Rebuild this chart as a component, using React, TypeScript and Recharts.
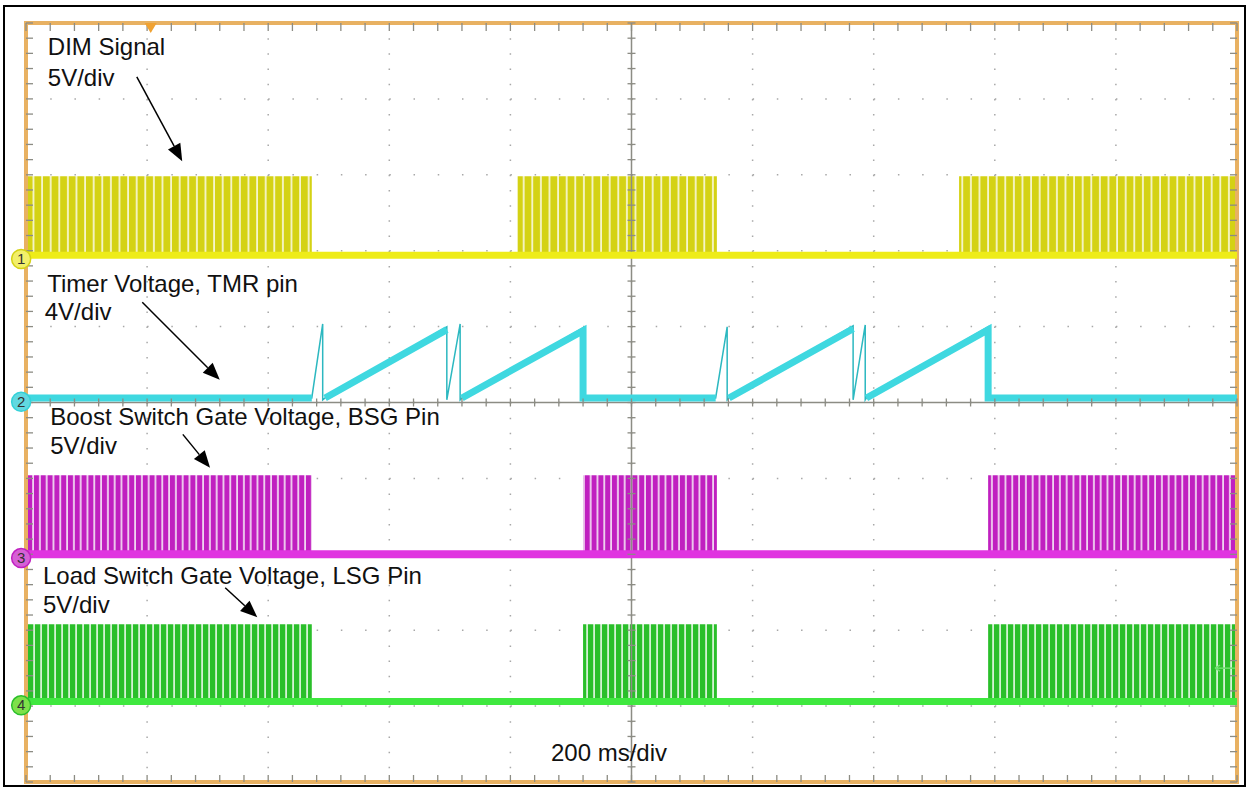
import {
  ComposedChart,
  Line,
  Area,
  Scatter,
  XAxis,
  YAxis,
  CartesianGrid,
  ReferenceLine,
  ReferenceDot,
  ReferenceArea,
} from "recharts";

// time: 0..2000 ms (200 ms/div), screen: 0..10 divisions
const timeTicks = [0, 200, 400, 600, 800, 1000, 1200, 1400, 1600, 1800, 2000];
const divTicks = [0, 1, 2, 3, 4, 5, 6, 7, 8, 9, 10];

// channel settings
const channelNames = ["1", "2", "3", "4"];
const channelOffsets = [6.94, 5.06, 3.0, 1.06]; // ground position, div
const voltsPerDiv = [5, 4, 5, 5];
const channelColors = ["#d4d214", "#34d2d8", "#c020c0", "#2abf2a"];
const baselineColors = ["#eeec18", "#3fd8e0", "#e034e0", "#3fe83f"];
const markerFills = ["#f2ef6a", "#62d8e0", "#d660d6", "#7ee04a"];

// PWM burst windows, ms
const dimBursts = [[0, 472], [812, 1141], [1541, 2000]];
const bsgBursts = [[0, 472], [920, 1141], [1589, 2000]];
const lsgBursts = [[0, 472], [920, 1141], [1589, 2000]];
const dimHighV = 5.2;
const bsgHighV = 5.2;
const lsgHighV = 5.1;

// timer voltage, full trace (ms, V)
const tmrTime = [0, 472, 490, 490, 494, 695, 695, 717, 717, 720, 920, 920, 1139, 1158, 1158, 1161, 1366, 1366, 1386, 1386, 1388, 1589, 1589, 2000];
const tmrVolts = [0, 0, 3.9, -0.1, 0, 3.75, -0.1, 3.9, -0.1, 0, 3.7, 0, 0, 3.75, -0.1, 0, 3.8, -0.1, 3.85, -0.1, 0, 3.75, 0, 0];

// timer voltage, noisy thick parts (ramps and flat parts), null = break
const tmrBandTime = [0, 472, 480, 494, 695, 700, 720, 920, 920, 1139, 1145, 1161, 1366, 1370, 1388, 1589, 1589, 2000];
const tmrBandVolts = [0, 0, null, 0, 3.6, null, 0, 3.55, 0, 0, null, 0, 3.65, null, 0, 3.6, 0, 0];

// annotation texts (ms, div at baseline)
const noteTexts = [
  "DIM Signal",
  "5V/div",
  "Timer Voltage, TMR pin",
  "4V/div",
  "Boost Switch Gate Voltage, BSG Pin",
  "5V/div",
  "Load Switch Gate Voltage, LSG Pin",
  "5V/div",
  "200 ms/div",
];
const noteT = [36, 36, 35, 31, 40, 40, 28, 28, 867];
const noteD = [9.58, 9.17, 6.46, 6.09, 4.7, 4.32, 2.61, 2.23, 0.28];

// arrows: tail -> tip (ms, div)
const arrowFrom = [[183, 9.29], [192, 6.32], [259, 4.58], [329, 2.56]];
const arrowTo = [[258, 8.18], [320, 5.3], [304, 4.14], [382, 2.17]];

const minorT = Array.from({ length: 51 }, (_, i) => i * 40);
const minorD = Array.from({ length: 51 }, (_, i) => Math.round(i * 2) / 10);

const toDiv = (v: number, ch: number) => channelOffsets[ch] + v / voltsPerDiv[ch];

const envelope = (bursts: number[][], high: number, ch: number) =>
  bursts.flatMap(([a, b]) => [
    { t: a, d: toDiv(0, ch) },
    { t: a, d: toDiv(high, ch) },
    { t: b, d: toDiv(high, ch) },
    { t: b, d: toDiv(0, ch) },
  ]);

const flat = (ch: number) => [
  { t: 0, d: channelOffsets[ch] },
  { t: 2000, d: channelOffsets[ch] },
];

const dimData = envelope(dimBursts, dimHighV, 0);
const bsgData = envelope(bsgBursts, bsgHighV, 2);
const lsgData = envelope(lsgBursts, lsgHighV, 3);
const tmrData = tmrTime.map((t, i) => ({ t, d: toDiv(tmrVolts[i], 1) }));
const tmrBand = tmrBandTime.map((t, i) => ({
  t,
  d: tmrBandVolts[i] === null ? null : toDiv(tmrBandVolts[i] as number, 1),
}));

const tickColor = "#8c8c84";
const font = "'Liberation Sans', Arial, sans-serif";

const tickShape = (dx1: number, dy1: number, dx2: number, dy2: number) => (p: any) =>
  (
    <line
      x1={p.cx + dx1}
      y1={p.cy + dy1}
      x2={p.cx + dx2}
      y2={p.cy + dy2}
      stroke={tickColor}
      strokeWidth={1.3}
    />
  );

const arrowShape = (p: any) => {
  const { x1, y1, x2, y2 } = p;
  const a = Math.atan2(y2 - y1, x2 - x1);
  const len = 17;
  const hw = 7;
  const bx = x2 - len * Math.cos(a);
  const by = y2 - len * Math.sin(a);
  const px = -Math.sin(a) * hw;
  const py = Math.cos(a) * hw;
  return (
    <g>
      <line x1={x1} y1={y1} x2={bx} y2={by} stroke="#000" strokeWidth={1.5} />
      <polygon points={`${x2},${y2} ${bx + px},${by + py} ${bx - px},${by - py}`} fill="#000" />
    </g>
  );
};

function stripes(id: string, w: number, color: string, gap: string) {
  return (
    <pattern id={id} patternUnits="userSpaceOnUse" width={w} height={800}>
      <rect x={0} y={0} width={w} height={800} fill={color} />
      <rect x={w - 1.8} y={0} width={1.8} height={800} fill={gap} />
    </pattern>
  );
}

export default function App() {
  return (
    <div
      style={{
        position: "absolute",
        left: 0,
        top: 0,
        width: 1249,
        height: 789,
        background: "#fff",
        overflow: "hidden",
      }}
    >
      <div
        style={{
          position: "absolute",
          left: 3,
          top: 5,
          width: 1243,
          height: 782,
          border: "2.5px solid #000",
          boxSizing: "border-box",
        }}
      />
      <div style={{ position: "absolute", left: 0, top: 0 }}>
        <ComposedChart width={1249} height={789} margin={{ top: 23, right: 12, bottom: 7, left: 26 }}>
          <defs>
            {stripes("pYellow", 8.6, channelColors[0], "#f6f5cc")}
            {stripes("pMagenta", 6.8, channelColors[2], "#f0d4f0")}
            {stripes("pGreen", 7, channelColors[3], "#d4f2d4")}
          </defs>
          <XAxis dataKey="t" type="number" domain={[0, 2000]} ticks={timeTicks} hide />
          <YAxis dataKey="d" type="number" domain={[0, 10]} ticks={divTicks} hide />
          <CartesianGrid vertical={false} stroke="#a8a8a8" strokeWidth={1.5} strokeDasharray="1.5 22.72" />
          <CartesianGrid horizontal={false} stroke="#a8a8a8" strokeWidth={1.5} strokeDasharray="1.5 13.68" />
          <ReferenceLine x={1000} stroke={tickColor} strokeWidth={1.5} />
          <ReferenceLine y={5} stroke={tickColor} strokeWidth={1.5} />

          <Scatter data={minorT.map((t) => ({ t, d: 10 }))} dataKey="d" shape={tickShape(0, 0, 0, 8)} isAnimationActive={false} />
          <Scatter data={minorT.map((t) => ({ t, d: 0 }))} dataKey="d" shape={tickShape(0, 0, 0, -7)} isAnimationActive={false} />
          <Scatter data={minorD.map((d) => ({ t: 0, d }))} dataKey="d" shape={tickShape(0, 0, 7, 0)} isAnimationActive={false} />
          <Scatter data={minorD.map((d) => ({ t: 2000, d }))} dataKey="d" shape={tickShape(0, 0, -7, 0)} isAnimationActive={false} />
          <Scatter data={minorD.map((d) => ({ t: 1000, d }))} dataKey="d" shape={tickShape(-4, 0, 4, 0)} isAnimationActive={false} />
          <Scatter data={minorT.map((t) => ({ t, d: 5 }))} dataKey="d" shape={tickShape(0, -4, 0, 4)} isAnimationActive={false} />

          <Area data={dimData} dataKey="d" type="linear" baseValue={channelOffsets[0]} fill="url(#pYellow)" fillOpacity={1} stroke="none" isAnimationActive={false} />
          <Line data={flat(0)} dataKey="d" type="linear" stroke={baselineColors[0]} strokeWidth={7} dot={false} isAnimationActive={false} />

          <Line data={tmrData} dataKey="d" type="linear" stroke="#2cb8c0" strokeWidth={1.5} dot={false} isAnimationActive={false} />
          <Line data={tmrBand} dataKey="d" type="linear" stroke={baselineColors[1]} strokeWidth={7} dot={false} connectNulls={false} isAnimationActive={false} />

          <Area data={bsgData} dataKey="d" type="linear" baseValue={channelOffsets[2]} fill="url(#pMagenta)" fillOpacity={1} stroke="none" isAnimationActive={false} />
          <Line data={flat(2)} dataKey="d" type="linear" stroke={baselineColors[2]} strokeWidth={8} dot={false} isAnimationActive={false} />

          <Area data={lsgData} dataKey="d" type="linear" baseValue={channelOffsets[3]} fill="url(#pGreen)" fillOpacity={1} stroke="none" isAnimationActive={false} />
          <Line data={flat(3)} dataKey="d" type="linear" stroke={baselineColors[3]} strokeWidth={7} dot={false} isAnimationActive={false} />

          <ReferenceArea x1={0} x2={2000} y1={0} y2={10} fill="none" fillOpacity={0} stroke="#e8b162" strokeWidth={4} />

          {/* trigger position and level markers */}
          <ReferenceDot
            x={206}
            y={10}
            ifOverflow="visible"
            shape={(p: any) => (
              <polygon points={`${p.cx - 6},${p.cy} ${p.cx + 6},${p.cy} ${p.cx},${p.cy + 10}`} fill="#f0a232" />
            )}
          />
          <ReferenceDot
            x={2000}
            y={1.5}
            ifOverflow="visible"
            shape={(p: any) => (
              <g stroke="#6ee06e" strokeWidth={1.5}>
                <line x1={p.cx - 22} y1={p.cy} x2={p.cx - 2} y2={p.cy} />
                <line x1={p.cx - 22} y1={p.cy} x2={p.cx - 17} y2={p.cy - 3} />
                <line x1={p.cx - 22} y1={p.cy} x2={p.cx - 17} y2={p.cy + 3} />
              </g>
            )}
          />

          {channelNames.map((n, i) => (
            <ReferenceDot
              key={"ch" + n}
              x={-8}
              y={channelOffsets[i] - 0.05}
              ifOverflow="visible"
              shape={(p: any) => (
                <g>
                  <circle cx={p.cx} cy={p.cy} r={9.5} fill={markerFills[i]} stroke={channelColors[i]} strokeWidth={1.5} />
                  <text x={p.cx} y={p.cy + 5} textAnchor="middle" fontSize={15} fontFamily={font} fill="#333">
                    {n}
                  </text>
                </g>
              )}
            />
          ))}

          {arrowFrom.map((f, i) => (
            <ReferenceLine
              key={"ar" + i}
              segment={[
                { x: f[0], y: f[1] },
                { x: arrowTo[i][0], y: arrowTo[i][1] },
              ]}
              ifOverflow="visible"
              shape={arrowShape}
            />
          ))}

          {noteTexts.map((s, i) => (
            <ReferenceDot
              key={"tx" + i}
              x={noteT[i]}
              y={noteD[i]}
              ifOverflow="visible"
              shape={(p: any) => (
                <text x={p.cx} y={p.cy} fontSize={24} fontFamily={font} fill="#111">
                  {s}
                </text>
              )}
            />
          ))}
        </ComposedChart>
      </div>
    </div>
  );
}
